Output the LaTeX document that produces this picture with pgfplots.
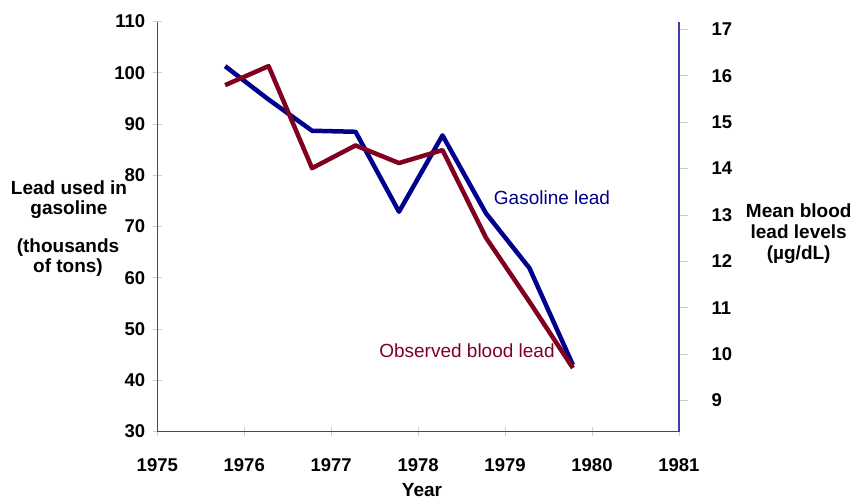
\documentclass[border=0pt]{standalone}
\usepackage{pgfplots}
\pgfplotsset{compat=1.18}
\usepackage{fontspec}
\setmainfont{Liberation Sans}
\definecolor{gasblue}{RGB}{0,0,140}
\definecolor{bloodred}{RGB}{128,0,32}
\definecolor{axblue}{RGB}{60,60,170}
\begin{document}
\begin{tikzpicture}
\path[use as bounding box] (-157.3pt,-67.3pt) rectangle (697.7pt,431.6pt);
\pgfplotsset{
  every axis/.append style={
    scale only axis, width=521.7pt, height=410pt,
    at={(0pt,0pt)}, anchor=south west,
    xmin=1975, xmax=1981,
    /pgf/number format/assume math mode=true,
    tick label style={font=\fontsize{18.5}{20}\selectfont\bfseries},
    tick align=outside, major tick length=9pt,
    every tick/.style={gray!40, line width=0.8pt},
    axis line style={axblue, line width=1.2pt},
    clip=false,
  }
}
\begin{axis}[
  axis x line=bottom, axis y line=left,
  ymin=30, ymax=110, ytick={30,40,...,110},
  xtick={1975,...,1981},
  x tick label style={/pgf/number format/1000 sep={}, yshift=-19pt},
  y tick label style={xshift=-4pt},
  axis line style={-},
]
\addplot[gasblue, line width=4.5pt, line join=round] coordinates {
(1975.78,101.3) (1976.28,94.8) (1976.78,88.7) (1977.28,88.5) (1977.78,72.9)
(1978.28,87.8) (1978.78,72.6) (1979.28,61.9) (1979.78,43.0)
};
\end{axis}
\begin{axis}[
  axis x line=none, axis y line*=right,
  ymin=8.33, ymax=17.17, ytick={9,...,17},
  y tick label style={xshift=20pt},
  axis line style={-},
]
\addplot[bloodred, line width=4.5pt, line join=round] coordinates {
(1975.78,15.80) (1976.28,16.21) (1976.78,14.01) (1977.28,14.50) (1977.78,14.12)
(1978.28,14.40) (1978.78,12.51) (1979.28,11.13) (1979.78,9.70)
};
\end{axis}
\node[align=center, font=\fontsize{19}{20}\selectfont\bfseries] at (-88.3pt,232pt) {Lead used in\\gasoline};
\node[align=center, font=\fontsize{19}{20}\selectfont\bfseries] at (-89.3pt,174.2pt) {(thousands\\of tons)};
\node[align=center, font=\fontsize{19}{21}\selectfont\bfseries] at (641.4pt,197.7pt) {Mean blood\\lead levels\\(µg/dL)};
\node[font=\fontsize{19}{20}\selectfont\bfseries] at (264.7pt,-58.3pt) {Year};
\node[font=\fontsize{19}{22}\selectfont, text=gasblue] at (394.7pt,233.7pt) {Gasoline lead};
\node[font=\fontsize{19}{22}\selectfont, text=bloodred] at (309.7pt,80.7pt) {Observed blood lead};
\end{tikzpicture}
\end{document}
